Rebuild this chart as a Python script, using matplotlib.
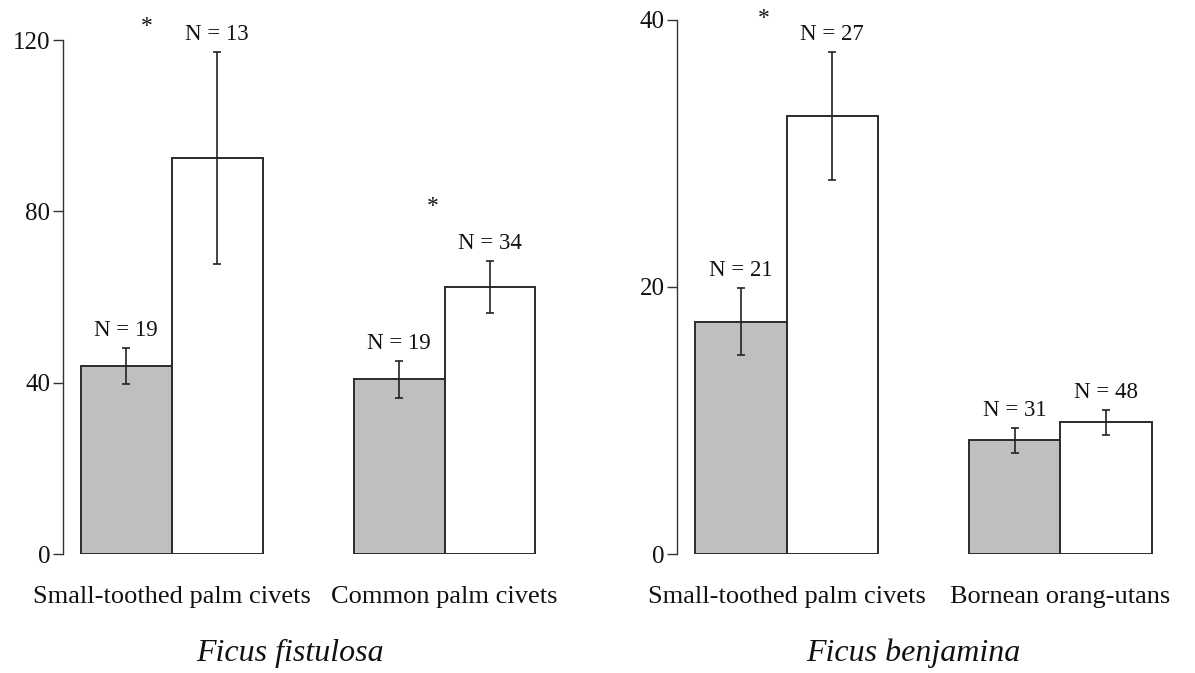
import matplotlib
matplotlib.use("Agg")
import matplotlib.pyplot as plt
import numpy as np

plt.rcParams['font.family'] = ['Liberation Serif', 'DejaVu Serif']

# ---- data ----
left_categories = ["Small-toothed palm civets", "Common palm civets"]
left_gray = [43.9, 40.8]
left_gray_err = [4.15, 4.3]
left_white = [92.5, 62.4]
left_white_err = [24.7, 6.1]
left_gray_n = ["N = 19", "N = 19"]
left_white_n = ["N = 13", "N = 34"]
left_title = "Ficus fistulosa"
left_ticks = [0, 40, 80, 120]

right_categories = ["Small-toothed palm civets", "Bornean orang-utans"]
right_gray = [17.4, 8.5]
right_gray_err = [2.5, 0.95]
right_white = [32.8, 9.85]
right_white_err = [4.8, 0.95]
right_gray_n = ["N = 21", "N = 31"]
right_white_n = ["N = 27", "N = 48"]
right_title = "Ficus benjamina"
right_ticks = [0, 20, 40]

# significance stars (data coords)
left_stars = [(-0.275, 123.2), (2.87, 81.2)]
right_stars = [(-0.245, 40.1)]

GRAY = "#bfbfbf"
EDGE = "#2b2b2b"

fig = plt.figure(figsize=(11.95, 6.73), dpi=100)
axL = fig.add_axes([0.0525, 0.1768, 0.4108, 0.7637])
axR = fig.add_axes([0.5665, 0.1768, 0.4126, 0.7942])


def draw(ax, cats, gray, gerr, white, werr, gn, wn, ticks, stars):
    centers = np.arange(len(cats)) * 3.0
    ax.bar(centers - 0.5, gray, width=1.0, color=GRAY, edgecolor=EDGE, linewidth=1.4, zorder=2)
    ax.bar(centers + 0.5, white, width=1.0, color="white", edgecolor=EDGE, linewidth=1.4, zorder=2)
    ax.errorbar(centers - 0.5, gray, yerr=gerr, fmt='none', ecolor="#222222", elinewidth=1.2,
                capsize=3, capthick=1.2, zorder=3)
    ax.errorbar(centers + 0.5, white, yerr=werr, fmt='none', ecolor="#222222", elinewidth=1.2,
                capsize=3, capthick=1.2, zorder=3)
    for x, v, e, t in zip(centers - 0.5, gray, gerr, gn):
        ax.annotate(t, (x, v + e), xytext=(0, 12.5), textcoords='offset points',
                    ha='center', va='center', fontsize=16.5, color="#111111", annotation_clip=False)
    for x, v, e, t in zip(centers + 0.5, white, werr, wn):
        ax.annotate(t, (x, v + e), xytext=(0, 12.5), textcoords='offset points',
                    ha='center', va='center', fontsize=16.5, color="#111111", annotation_clip=False)
    for (sx, sy) in stars:
        ax.text(sx, sy, "*", ha='center', va='center', fontsize=17, color="#111111", clip_on=False)
    for c, lab in zip(centers, cats):
        ax.annotate(lab, (c, 0), xycoords=('data', 'axes fraction'), xytext=(0, -31),
                    textcoords='offset points', ha='center', va='center', fontsize=19,
                    color="#111111", annotation_clip=False)
    ax.set_xlim(-1.2, 4.2)
    ax.set_ylim(0, ticks[-1])
    ax.set_yticks(ticks)
    ax.set_xticks([])
    for s in ['top', 'right', 'bottom']:
        ax.spines[s].set_visible(False)
    ax.spines['left'].set_color("#333333")
    ax.spines['left'].set_linewidth(1.0)
    ax.tick_params(axis='y', direction='out', length=7, width=1.0, color="#333333",
                   labelsize=18, pad=2, labelcolor="#111111")
    ax.set_facecolor('none')


draw(axL, left_categories, left_gray, left_gray_err, left_white, left_white_err,
     left_gray_n, left_white_n, left_ticks, left_stars)
draw(axR, right_categories, right_gray, right_gray_err, right_white, right_white_err,
     right_gray_n, right_white_n, right_ticks, right_stars)

fig.text(0.2423, 0.0297, left_title, ha='center', va='center', fontsize=23, style='italic', color="#111111")
fig.text(0.764, 0.0297, right_title, ha='center', va='center', fontsize=23, style='italic', color="#111111")

fig.savefig("out.png", dpi=100)
